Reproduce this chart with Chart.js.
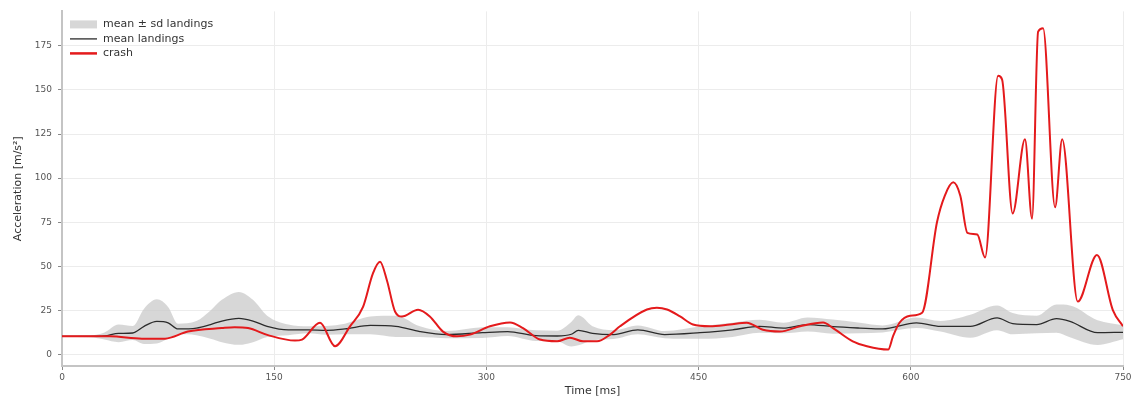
<!DOCTYPE html>
<html>
<head>
<meta charset="utf-8">
<script src="https://cdn.jsdelivr.net/npm/chart.js@4.4.0/dist/chart.umd.min.js"></script>
<style>
  html, body { margin: 0; padding: 0; background: #ffffff; }
  #wrap { width: 1134px; height: 401px; }
</style>
</head>
<body>
<div id="wrap"><canvas id="chart" width="1134" height="401"></canvas></div>
<script>
// Crash acceleration trace (time in ms, acceleration in m/s²)
const crashTime = [0, 34, 56.5, 72.8, 89, 113, 122, 131.5, 145.6, 164.7, 169.7, 182.4, 193, 203.6, 212.8, 219.8,
  224.8, 229.7, 235.4, 240.3, 251.7, 260, 269.3, 279.2, 288.4, 302.5, 316.7, 325.9, 337.9, 350, 359,
  368.3, 378.2, 387.4, 394.4, 413.5, 420.5, 427.7, 436.9, 446, 458, 472, 484, 495.5, 507.5, 521.7, 538, 545,
  559, 569, 584, 587.4, 592, 599.5, 608, 618.5, 624, 630, 635, 640, 647, 652.5, 661.7, 664.5, 672,
  680.7, 685.7, 690, 693.5, 702, 707, 718, 731.6, 742.9, 750];
const crashAccel = [10.3, 10.3, 9, 9, 13, 15, 15.5, 15, 11, 7.9, 8.5, 18, 4.7, 16, 27, 46,
  52.6, 42, 24.4, 21.6, 25.4, 21.6, 13, 10.3, 11.3, 16, 18.2, 15, 8.5, 7.5, 9.5,
  7.5, 7.5, 11.3, 16, 25.5, 26.5, 25.5, 21.6, 17, 16, 17, 18, 14, 13, 16, 18.2, 15,
  7.5, 4.7, 2.8, 10.3, 18, 22, 23.7, 75, 90, 97.6, 90, 69, 68, 55, 158, 156, 80,
  122, 77, 183, 185, 83.5, 122, 30, 56.4, 25, 16];

// Landings: mean trace and standard deviation
const landingTime = [0, 20, 30, 40, 50, 58, 67, 75, 82, 95, 105, 113, 125, 135, 145, 160, 174, 187, 200, 218,
  236, 253, 272, 297, 315, 335, 350, 360, 365, 375, 390, 407, 426, 451, 474, 493, 510, 527, 545, 564,
  580, 604, 621, 642, 661, 672, 689, 703, 712.5, 732, 750];
const landingMean = [10.3, 10.3, 10.5, 12, 12.2, 16, 18.8, 18, 14.5, 15, 17, 19, 20.5, 19, 16, 14, 14, 13.7, 14.5, 16.5,
  16, 13, 11.3, 12.4, 13, 10.7, 10.5, 11.5, 13.7, 12, 11.3, 14, 11.3, 12.4, 14, 16, 15, 17, 15.8, 15,
  14.5, 18, 16, 16, 20.8, 17.5, 17, 20.3, 18.8, 12.4, 12.6];
const landingSd = [0.3, 0.5, 2, 5, 4, 10, 12.5, 9, 3, 4, 8, 12, 15, 12, 6, 3, 2, 2.5, 3, 5,
  6, 3, 2, 3, 2.5, 3, 3, 7, 8.5, 4, 2.5, 2.5, 2, 3.5, 4, 3.7, 3, 4, 4, 3,
  2, 3, 3, 6.5, 7, 6, 5, 8, 9, 7, 4];

// Axis ticks
const xTicks = [0, 150, 300, 450, 600, 750];
const yTicks = [0, 25, 50, 75, 100, 125, 150, 175];

const RED = '#e41a1c';
const MEAN = '#2b2b2b';
const BAND = 'rgba(200,200,200,0.72)';
const FONT = "'DejaVu Sans', sans-serif";

const pts = (xs, ys) => xs.map((x, i) => ({ x: x, y: ys[i] }));
const upper = landingMean.map((m, i) => m + landingSd[i]);
const lower = landingMean.map((m, i) => m - landingSd[i]);

// Legend drawn inside the plot area, top-left
const insideLegend = {
  id: 'insideLegend',
  afterDraw(chart) {
    const { ctx, chartArea } = chart;
    const x0 = chartArea.left + 8;
    const y0 = chartArea.top + 13;
    const step = 14.5;
    const sw = 27;
    const items = [
      { text: 'mean ± sd landings', kind: 'box', color: BAND },
      { text: 'mean landings', kind: 'line', color: MEAN, width: 1.3 },
      { text: 'crash', kind: 'line', color: RED, width: 2.5 }
    ];
    ctx.save();
    ctx.font = '11px ' + FONT;
    ctx.textBaseline = 'middle';
    items.forEach((it, i) => {
      const y = y0 + i * step;
      if (it.kind === 'box') {
        ctx.fillStyle = it.color;
        ctx.fillRect(x0, y - 4, sw, 8);
      } else {
        ctx.strokeStyle = it.color;
        ctx.lineWidth = it.width;
        ctx.beginPath();
        ctx.moveTo(x0, y);
        ctx.lineTo(x0 + sw, y);
        ctx.stroke();
      }
      ctx.fillStyle = '#333333';
      ctx.fillText(it.text, x0 + sw + 6, y);
    });
    ctx.restore();
  }
};

new Chart(document.getElementById('chart'), {
  type: 'line',
  data: {
    datasets: [
      {
        label: 'crash',
        data: pts(crashTime, crashAccel),
        borderColor: RED,
        borderWidth: 2,
        pointRadius: 0,
        fill: false,
        cubicInterpolationMode: 'monotone'
      },
      {
        label: 'mean landings',
        data: pts(landingTime, landingMean),
        borderColor: MEAN,
        borderWidth: 1.3,
        pointRadius: 0,
        fill: false,
        cubicInterpolationMode: 'monotone'
      },
      {
        label: 'mean ± sd landings',
        data: pts(landingTime, upper),
        borderWidth: 0,
        borderColor: 'rgba(0,0,0,0)',
        backgroundColor: BAND,
        pointRadius: 0,
        fill: '+1',
        cubicInterpolationMode: 'monotone'
      },
      {
        label: 'sd lower',
        data: pts(landingTime, lower),
        borderWidth: 0,
        borderColor: 'rgba(0,0,0,0)',
        pointRadius: 0,
        fill: false,
        cubicInterpolationMode: 'monotone'
      }
    ]
  },
  options: {
    responsive: false,
    animation: false,
    devicePixelRatio: 1,
    layout: { padding: { left: 0, right: 11, top: 10, bottom: 0 } },
    plugins: {
      legend: { display: false },
      tooltip: { enabled: false }
    },
    scales: {
      x: {
        type: 'linear',
        min: 0,
        max: 750,
        afterFit: (s) => { s.height = 35; },
        afterBuildTicks: (s) => { s.ticks = xTicks.map(v => ({ value: v })); },
        grid: { color: '#ececec', lineWidth: 1, tickColor: '#8a8a8a', tickLength: 4, tickWidth: 1 },
        border: { display: true, color: '#c4c4c4', width: 2 },
        ticks: { color: '#555555', font: { family: FONT, size: 9 }, padding: 2, maxRotation: 0 },
        title: {
          display: true, text: 'Time [ms]', color: '#333333',
          font: { family: FONT, size: 11 }, padding: { top: 0, bottom: 3 }
        }
      },
      y: {
        type: 'linear',
        min: -6.5,
        max: 194.5,
        afterFit: (s) => { s.width = 62; },
        afterBuildTicks: (s) => { s.ticks = yTicks.map(v => ({ value: v })); },
        grid: { color: '#ececec', lineWidth: 1, tickColor: '#8a8a8a', tickLength: 4, tickWidth: 1 },
        border: { display: true, color: '#c4c4c4', width: 2 },
        ticks: { color: '#555555', font: { family: FONT, size: 9 }, padding: 6 },
        title: {
          display: true, text: 'Acceleration [m/s²]', color: '#333333',
          font: { family: FONT, size: 11 }, padding: { top: 12, bottom: 4 }
        }
      }
    }
  },
  plugins: [insideLegend]
});
</script>
</body>
</html>
